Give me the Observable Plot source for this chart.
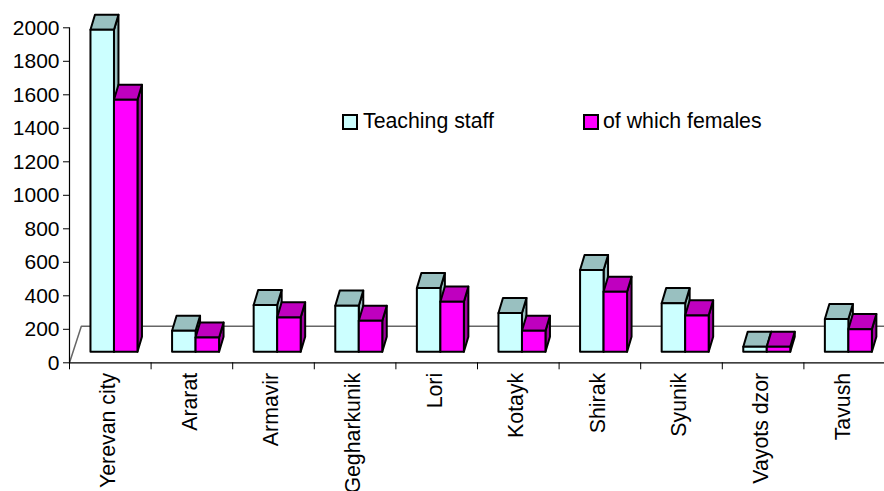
<!DOCTYPE html>
<html>
<head>
<meta charset="utf-8">
<script src="https://cdn.jsdelivr.net/npm/d3@7"></script>
<script src="https://cdn.jsdelivr.net/npm/@observablehq/plot@0.6"></script>
<style>
html,body{margin:0;padding:0;background:#fff;overflow:hidden;width:884px;height:491px}
#wrap{position:relative;width:884px;height:491px;overflow:hidden;font-family:"Liberation Sans",Arial,sans-serif}
svg{display:block}
.lg{position:absolute;top:113px;height:16px;line-height:16px;font-size:21.3px;color:#000;white-space:nowrap}
.sw{position:absolute;top:113.5px;width:12px;height:12px;border:2px solid #000;box-sizing:content-box}
</style>
</head>
<body>
<div id="wrap"></div>
<script>
const regions = ["Yerevan city","Ararat","Armavir","Gegharkunik","Lori","Kotayk","Shirak","Syunik","Vayots dzor","Tavush"];
const teachingStaff = [1922,125,279,275,380,231,488,290,30,195];
const ofWhichFemales = [1504,85,205,185,299,125,358,217,30,135];
const yTicks = [0,200,400,600,800,1000,1200,1400,1600,1800,2000];
const seriesNames = ["Teaching staff","of which females"];
const frontColors = ["#ccffff","#ff00ff"];
const topColors = ["#99c0c0","#bf00bf"];
const sideColors = ["#99c0c0","#a000a0"];

// 3D projection, in data units
const barStart = 0.257, barWidth = 0.288, depthX = 0.055;
const lift = 66, depthY = 90, floorX = 0.145, floorY = 218;

const polys = [];
regions.forEach((r, i) => {
  [teachingStaff[i], ofWhichFemales[i]].forEach((v, s) => {
    const x0 = i + barStart + s * barWidth, x1 = x0 + barWidth;
    const y0 = lift, y1 = lift + v;
    const add = (face, color, pts) => {
      const id = `${i}-${s}-${face}`;
      [...pts, pts[0]].forEach(([x, y]) => polys.push({id, color, x, y}));
    };
    add("side", sideColors[s], [[x1,y0],[x1+depthX,y0+depthY],[x1+depthX,y1+depthY],[x1,y1]]);
    add("top", topColors[s], [[x0,y1],[x1,y1],[x1+depthX,y1+depthY],[x0+depthX,y1+depthY]]);
    add("front", frontColors[s], [[x0,y0],[x1,y0],[x1,y1],[x0,y1]]);
  });
});

const floor = [{x:0,y:0},{x:floorX,y:floorY},{x:10,y:floorY}];

const chart = Plot.plot({
  width: 884, height: 491,
  marginLeft: 69, marginRight: 0, marginTop: 27.3, marginBottom: 128.7,
  style: {fontFamily: '"Liberation Sans",Arial,sans-serif', background: "#fff", overflow: "hidden"},
  x: {type: "linear", domain: [0,10], range: [69,885]},
  y: {type: "linear", domain: [0,2000], range: [362.3,27.3]},
  color: {type: "identity"},
  marks: [
    Plot.line(floor, {x:"x", y:"y", stroke:"#666", strokeWidth:1.5}),
    Plot.line(polys, {x:"x", y:"y", z:"id", fill:"color", stroke:"#000", strokeWidth:2, strokeLinejoin:"round", curve:"linear"}),
    Plot.ruleX([0], {y1:0, y2:2000, stroke:"#000", strokeWidth:1.2}),
    Plot.ruleY([0], {x1:0, x2:10, stroke:"#000", strokeWidth:1.2}),
    Plot.axisY({ticks: yTicks, tickFormat: d => String(d), tickSize: 6, tickPadding: 4, fontSize: 21, label: null, color:"#000"}),
    Plot.axisX({ticks: d3.range(0,11), tickFormat: () => "", tickSize: 7, label: null}),
    Plot.text(regions, {x: (d,i) => i + 0.5, y: 0, text: d => d, rotate: -90, textAnchor: "end", dy: 10, dx: -2, fontSize: 21.3, fill:"#000"})
  ]
});
const wrap = document.getElementById("wrap");
wrap.appendChild(chart);
[[342,363],[583,603]].forEach(([sx,tx],i) => {
  const s = document.createElement("div"); s.className="sw"; s.style.left=sx+"px"; s.style.background=frontColors[i]; wrap.appendChild(s);
  const t = document.createElement("div"); t.className="lg"; t.style.left=tx+"px"; t.textContent=seriesNames[i]; wrap.appendChild(t);
});
</script>
</body>
</html>
